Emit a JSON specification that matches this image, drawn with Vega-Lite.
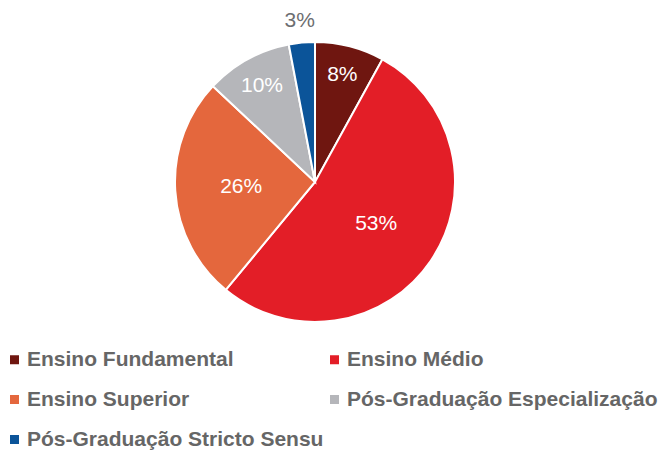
{
  "$schema": "https://vega.github.io/schema/vega-lite/v6.json",
  "width": 630,
  "height": 364,
  "autosize": {"type": "none"},
  "padding": {"left": 0, "top": 0, "right": 29, "bottom": 86},
  "background": "white",
  "config": {"view": {"stroke": null}, "font": "Liberation Sans"},
  "data": {
    "values": [
      {"categoria": "Ensino Fundamental", "valor": 0.08},
      {"categoria": "Ensino Médio", "valor": 0.53},
      {"categoria": "Ensino Superior", "valor": 0.26},
      {"categoria": "Pós-Graduação Especialização", "valor": 0.10},
      {"categoria": "Pós-Graduação Stricto Sensu", "valor": 0.03}
    ]
  },
  "encoding": {
    "theta": {"field": "valor", "type": "quantitative", "stack": true},
    "order": {"field": "categoria", "sort": "ascending"}
  },
  "layer": [
    {
      "mark": {"type": "arc", "outerRadius": 140, "stroke": "white", "strokeWidth": 2},
      "encoding": {
        "color": {
          "field": "categoria",
          "type": "nominal",
          "scale": {
            "domain": ["Ensino Fundamental", "Ensino Superior", "Pós-Graduação Stricto Sensu", "Ensino Médio", "Pós-Graduação Especialização"],
            "range": ["#6f1610", "#e4673d", "#0b5499", "#e31e27", "#b5b6ba"]
          },
          "legend": {
            "title": null,
            "orient": "none",
            "legendX": 4,
            "legendY": 349,
            "columns": 2,
            "columnPadding": 0,
            "rowPadding": 18,
            "symbolType": "square",
            "symbolSize": 81,
            "symbolStrokeWidth": 0,
            "labelFont": "Liberation Sans",
            "labelFontSize": 21,
            "labelFontWeight": "bold",
            "labelColor": "#666666",
            "labelOffset": 2,
            "labelLimit": 400
          }
        }
      }
    },
    {
      "mark": {"type": "text", "radius": 74, "fill": "white", "fontSize": 21, "font": "Liberation Sans"},
      "encoding": {
        "text": {"field": "valor", "type": "quantitative", "format": ".0%"},
        "opacity": {"condition": {"test": "datum.categoria === 'Ensino Médio' || datum.categoria === 'Ensino Superior'", "value": 1}, "value": 0}
      }
    },
    {
      "mark": {"type": "text", "radius": 110, "fill": "white", "fontSize": 21, "font": "Liberation Sans"},
      "encoding": {
        "text": {"field": "valor", "type": "quantitative", "format": ".0%"},
        "opacity": {"condition": {"test": "datum.categoria === 'Ensino Fundamental' || datum.categoria === 'Pós-Graduação Especialização'", "value": 1}, "value": 0}
      }
    },
    {
      "mark": {"type": "text", "radius": 162, "fill": "#6d6e71", "fontSize": 21, "font": "Liberation Sans"},
      "encoding": {
        "text": {"field": "valor", "type": "quantitative", "format": ".0%"},
        "opacity": {"condition": {"test": "datum.categoria === 'Pós-Graduação Stricto Sensu'", "value": 1}, "value": 0}
      }
    }
  ]
}
